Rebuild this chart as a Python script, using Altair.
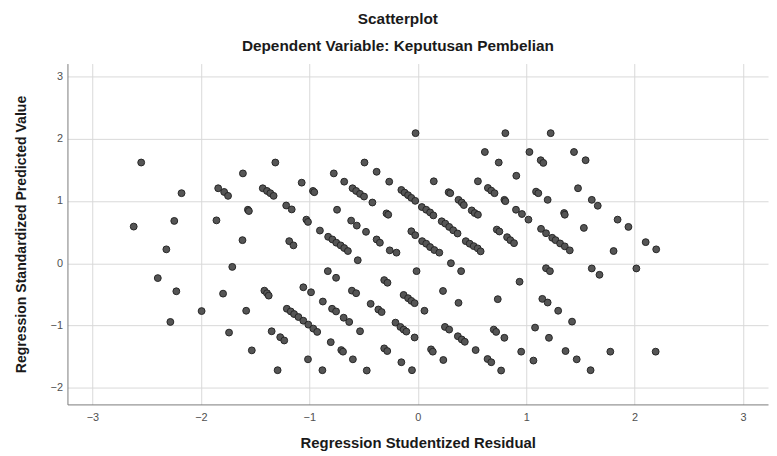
import altair as alt
import pandas as pd

# Regression Studentized Residual (x) and Regression Standardized Predicted Value (y)
residual = [
    -2.550, -2.178, -1.840, -1.785, -1.749, -1.612, -2.619, -2.245, -1.856, -2.318,
    -1.616, -1.313, -1.070, -1.429, -1.390, -1.359, -1.329, -0.966, -0.954, -0.774,
    -0.678, -0.601, -0.568, -0.532, -0.495, -1.566, -1.557, -1.213, -1.162, -0.744,
    -0.614, -0.562, -1.027, -1.012, -0.902, -0.826, -0.787, -0.751, -0.711, -0.678,
    -0.644, -1.185, -1.146, -0.020, -0.491, -0.379, -0.263, -0.418, -0.288, -0.272,
    -0.151, -0.121, -0.089, -0.059, -0.023, 0.038, 0.078, 0.114, 0.144, 0.148,
    0.285, 0.300, 0.376, 0.406, 0.425, 0.498, 0.525, 0.555, -0.477, -0.379,
    -0.349, -0.258, -0.196, -0.059, -0.023, 0.041, 0.078, 0.114, 0.153, 0.199,
    0.221, 0.254, 0.290, 0.327, 0.367, 0.443, 0.479, 0.516, 0.553, 0.580,
    0.808, 1.226, 0.619, 1.030, 1.441, 0.747, 1.134, 1.158, 1.548, 0.909,
    0.647, 0.678, 0.708, 0.799, 0.808, 1.091, 1.112, 1.198, 1.478, 1.605,
    1.660, 0.555, 0.906, 0.961, 1.021, 1.350, 1.356, 0.729, 0.753, 0.824,
    0.854, 0.888, 1.137, 1.183, 1.240, 1.271, 1.313, 1.356, 1.402, 1.532,
    1.843, 1.943, 2.102, 2.199, 1.806, -1.710, -2.397, -2.226, -1.795, -1.993,
    -2.281, -1.740, -0.553, -0.829, -0.753, -1.414, -1.390, -1.374, -1.055, -0.984,
    -0.607, -0.568, -1.582, -1.207, -1.171, -1.140, -1.100, -1.055, -1.009, -0.963,
    -0.927, -0.875, -0.790, -0.753, -0.683, -0.632, -0.532, -1.347, -1.268, -1.231,
    -1.530, -0.802, -0.705, -0.689, -0.598, -1.012, -1.292, -0.879, 0.306, 0.400,
    -0.011, -0.309, -0.279, -0.130, -0.089, -0.059, -0.029, 0.233, 0.376, -0.434,
    -0.363, -0.333, 0.062, -0.205, -0.160, -0.130, -0.105, -0.029, 0.251, 0.290,
    0.370, 0.406, 0.434, 0.534, -0.309, -0.281, 0.123, 0.139, 0.236, -0.151,
    -0.470, -0.053, 1.183, 1.219, 1.605, 1.676, 0.939, 0.738, 1.149, 1.198,
    1.295, 1.423, 0.701, 0.723, 0.799, 1.082, 1.210, 0.954, 1.363, 0.644,
    0.678, 1.067, 1.466, 0.769, 1.594, 2.016, 1.776, 2.194,
]

predicted = [
    1.619, 1.126, 1.205, 1.146, 1.083, 1.444, 0.589, 0.680, 0.689, 0.223,
    0.371, 1.619, 1.295, 1.205, 1.162, 1.126, 1.083, 1.162, 1.142, 1.444,
    1.311, 1.205, 1.162, 1.115, 1.072, 0.860, 0.839, 0.928, 0.865, 0.860,
    0.685, 0.605, 0.701, 0.664, 0.525, 0.425, 0.382, 0.330, 0.287, 0.244,
    0.196, 0.355, 0.287, 2.091, 1.619, 1.470, 1.311, 0.976, 0.801, 0.780,
    1.178, 1.135, 1.094, 1.051, 1.003, 0.903, 0.860, 0.817, 0.769, 1.317,
    1.142, 1.126, 1.019, 0.976, 0.935, 0.849, 0.807, 1.317, 0.505, 0.382,
    0.330, 0.207, 0.170, 0.514, 0.451, 0.355, 0.314, 0.260, 0.212, 0.170,
    0.674, 0.637, 0.584, 0.530, 0.478, 0.355, 0.314, 0.275, 0.239, 0.191,
    2.091, 2.091, 1.788, 1.788, 1.788, 1.619, 1.656, 1.613, 1.656, 1.406,
    1.210, 1.167, 1.126, 1.019, 0.998, 1.151, 1.126, 1.019, 1.205, 1.019,
    0.924, 0.780, 0.860, 0.791, 0.701, 0.807, 0.780, 0.541, 0.510, 0.419,
    0.371, 0.323, 0.553, 0.482, 0.409, 0.371, 0.318, 0.271, 0.207, 0.568,
    0.701, 0.584, 0.339, 0.223, 0.196, -0.059, -0.239, -0.451, -0.489, -0.769,
    -0.944, -1.115, 0.048, -0.127, -0.234, -0.441, -0.482, -0.521, -0.387, -0.467,
    -0.441, -0.482, -0.764, -0.732, -0.775, -0.817, -0.865, -0.924, -0.987, -1.051,
    -1.104, -0.616, -0.732, -0.775, -0.876, -0.944, -1.094, -1.094, -1.189, -1.242,
    -1.401, -1.269, -1.396, -1.422, -1.545, -1.545, -1.720, -1.720, 0.000, -0.127,
    -0.127, -0.271, -0.314, -0.510, -0.562, -0.605, -0.642, -0.446, -0.637, -0.653,
    -0.744, -0.785, -0.764, -0.955, -1.024, -1.067, -1.099, -1.194, -1.024, -1.067,
    -1.174, -1.226, -1.263, -1.396, -1.369, -1.412, -1.385, -1.422, -1.556, -1.592,
    -1.725, -1.720, -0.080, -0.127, -0.084, -0.186, -0.298, -0.578, -0.573, -0.632,
    -0.764, -0.939, -1.067, -1.104, -1.199, -1.035, -1.199, -1.422, -1.412, -1.540,
    -1.592, -1.565, -1.545, -1.725, -1.720, -0.084, -1.422, -1.422,
]

x_ticks = [-3, -2, -1, 0, 1, 2, 3]
y_ticks = [-2, -1, 0, 1, 2, 3]

df = pd.DataFrame({"residual": residual, "predicted": predicted})

FONT = "Liberation Sans, Arial"

chart = alt.Chart(df).mark_circle(
    size=48, color="#555555", stroke="#262626", strokeWidth=1, opacity=1
).encode(
    x=alt.X(
        "residual:Q",
        scale=alt.Scale(domain=[-3.23, 3.23], nice=False, zero=False),
        axis=alt.Axis(values=x_ticks, title="Regression Studentized Residual",
                      titlePadding=13, titleFontSize=15, labelPadding=7),
    ),
    y=alt.Y(
        "predicted:Q",
        scale=alt.Scale(domain=[-2.27, 3.21], nice=False, zero=False),
        axis=alt.Axis(values=y_ticks, title="Regression Standardized Predicted Value",
                      titlePadding=22, titleFontSize=14.2, labelPadding=5),
    ),
).properties(
    width=707,
    height=344,
    autosize=alt.AutoSizeParams(type="none"),
    padding={"left": 60, "top": 54, "right": 1, "bottom": 52},
    title=alt.TitleParams(
        text="Scatterplot",
        subtitle="Dependent Variable: Keputusan Pembelian",
        anchor="middle",
        dx=-20,
        font=FONT,
        subtitleFont=FONT,
        fontSize=15.5,
        subtitleFontSize=15.5,
        fontWeight="bold",
        subtitleFontWeight="bold",
        color="#1a1a1a",
        subtitleColor="#1a1a1a",
        subtitlePadding=12,
        offset=9,
    ),
).configure_view(
    stroke=None
).configure_axis(
    grid=True,
    gridColor="#d9d9d9",
    gridWidth=1,
    domainColor="#7a7a7a",
    domainWidth=1,
    ticks=False,
    labelFont=FONT,
    labelFontSize=11,
    labelColor="#505050",
    titleFont=FONT,
    titleFontWeight="bold",
    titleColor="#1a1a1a",
)

chart.save("out.html", embed_options={"renderer": "svg", "actions": False})
